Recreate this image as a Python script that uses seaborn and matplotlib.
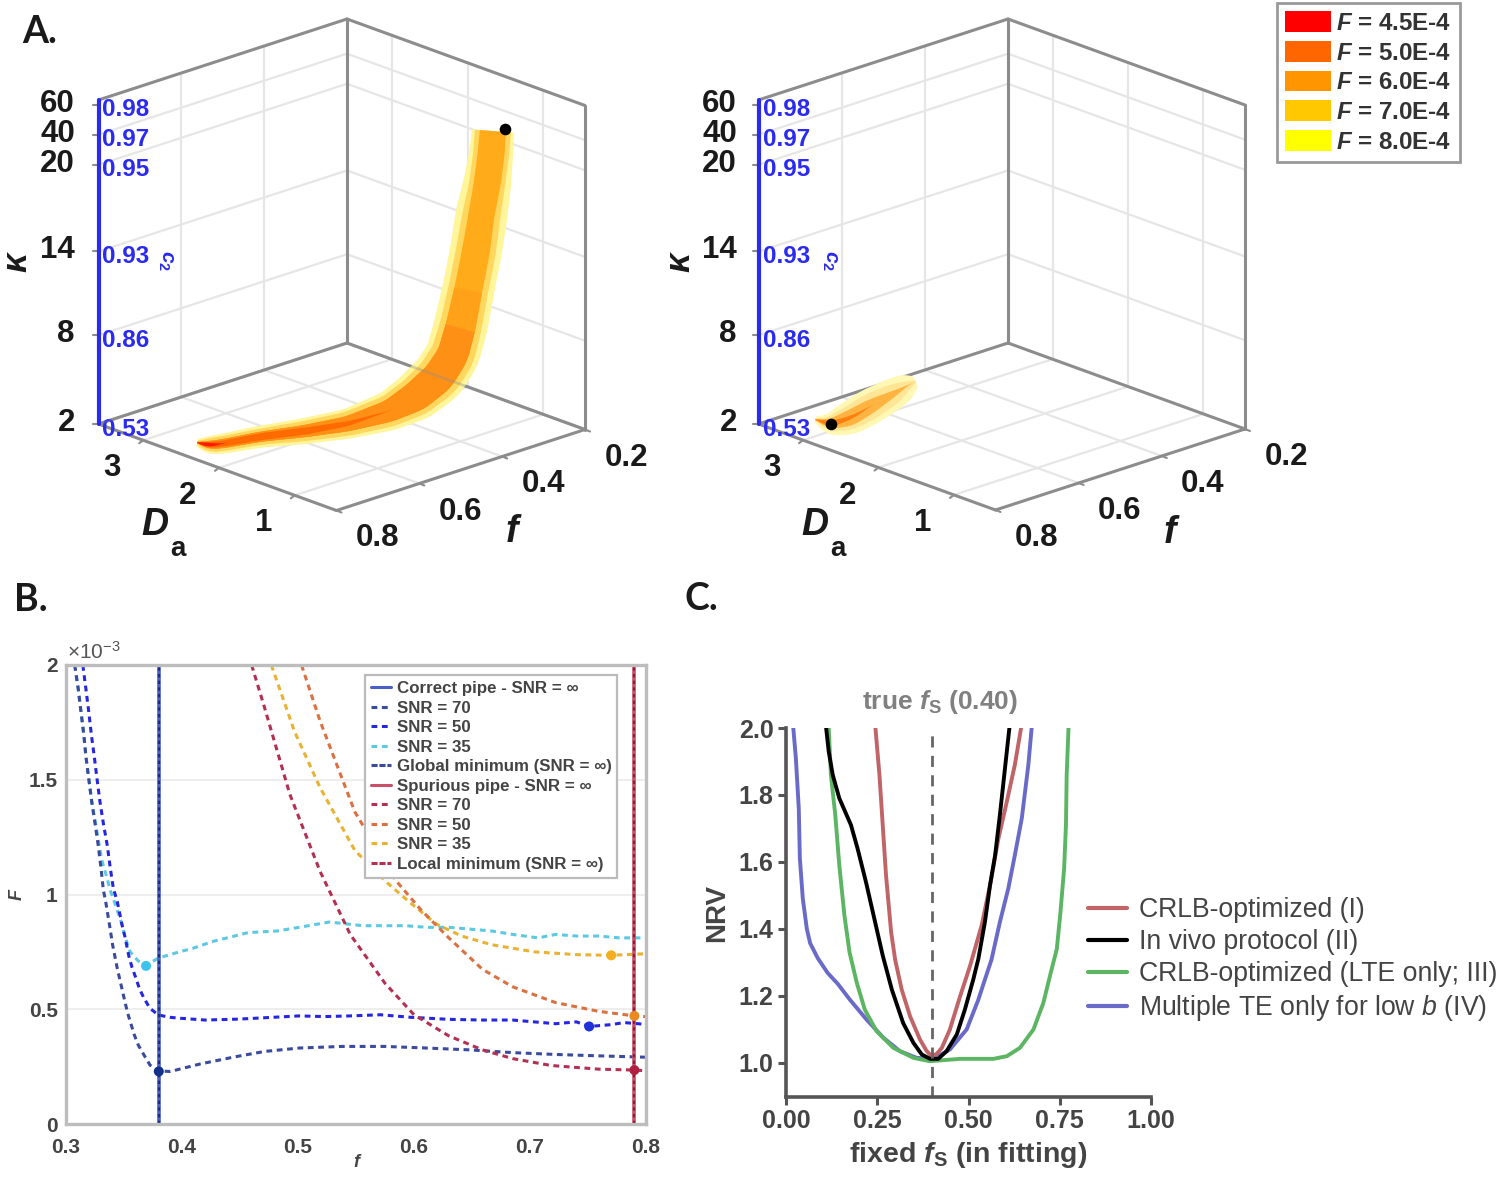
import numpy as np
import pandas as pd
import matplotlib
matplotlib.use("Agg")
import matplotlib.pyplot as plt
from matplotlib.lines import Line2D
from matplotlib.patches import Patch
import seaborn as sns

sns.set_theme(style="white")
plt.rcParams['font.family'] = ['Liberation Sans', 'DejaVu Sans']
plt.rcParams['mathtext.fontset'] = 'custom'
plt.rcParams['mathtext.rm'] = 'Liberation Sans'
plt.rcParams['mathtext.it'] = 'Liberation Sans:italic'
plt.rcParams['mathtext.bf'] = 'Liberation Sans:bold'
plt.rcParams['mathtext.bfit'] = 'Liberation Sans:italic:bold'

# ---------- Panel A data ----------
f_ticks = [0.2, 0.4, 0.6, 0.8]
da_ticks = [1, 2, 3]
kappa_ticks = [2, 8, 14, 20, 40, 60]
c2_ticks = ["0.53", "0.86", "0.93", "0.95", "0.97", "0.98"]
kappa_scale = [2, 8, 14, 20, 40, 60, 63]
kappa_height = [0, 0.274, 0.5325, 0.80, 0.893, 0.986, 1.0]
f_range = [0.2, 0.8]
da_range = [0.45, 3.59]

ridge_f = [.74, .734, .719, .68, .632, .59, .548, .512, .482, .458, .44, .428, .416, .407, .398, .392, .38]
ridge_da = [2.64, 2.50, 2.40, 2.11, 1.80, 1.45, 1.12, .97, .84, .785, .776, .74, .71, .682, .66, .64, .68]
ridge_kappa = [2, 2, 2.14, 2.8, 3.31, 4.08, 5.2, 6.14, 7.39, 8.8, 10.76, 13.4, 15.9, 18.5, 24.5, 44.3, 59.6]
ridge_w80 = [3, 9, 10, 11, 13, 15, 20, 25, 27, 27, 27, 26, 26, 26, 24, 22, 21]
ridge_w70 = [1, 7, 7.5, 8, 10, 12, 16, 20, 22, 22, 21, 20, 20, 19, 18, 18, 18]
ridge_w60 = [0, 4, 4.5, 5, 6, 7.5, 11, 15, 16, 15.5, 15, 14, 14, 13, 13.5, 13.5, 13]
ridge_w50 = [0, 3, 3, 3.5, 3.5, 2.5, 0, 0, 0, 0, 0, 0, 0, 0, 0, 0, 0]
ridge_w45 = [0, 2.5, 0, 0, 0, 0, 0, 0, 0, 0, 0, 0, 0, 0, 0, 0, 0]
min_left = (0.38, 0.52, 62)

blob_f = [.713, .708, .664, .595, .52, .47, .446]
blob_da = [3.34, 3.14, 3.13, 3.23, 3.33, 3.41, 3.43]
blob_kappa = [2, 2, 2, 2, 2, 2, 2]
blob_w80 = [2, 12, 17, 18, 16, 12, 3]
blob_w70 = [0, 8, 12, 13, 10, 4, 0]
blob_w60 = [0, 5, 8, 7, 3, 0, 0]
blob_w50 = [0, 3, 2, 0, 0, 0, 0]
min_right = (0.708, 3.14, 2)

F_levels = ["4.5E-4", "5.0E-4", "6.0E-4", "7.0E-4", "8.0E-4"]
F_colors = ["#ff0000", "#ff6600", "#ff9500", "#ffc800", "#ffff00"]

# ---------- Panel B data (F in units of 1e-3) ----------
b35_f = [.3075,.3106,.3129,.3153,.3172,.3196,.3222,.3255,.3308,.3351,.338,.3422,.348,.3508,.3552,.3623,.3696,.3796,.3983,.409,.427,.457,.482,.501,.527,.556,.593,.611,.630,.667,.685,.707,.722,.740,.759,.777,.800]
b35_F = [2.0,1.894,1.797,1.699,1.600,1.505,1.404,1.31,1.15,1.077,1.02,.961,.874,.816,.751,.710,.693,.723,.751,.765,.796,.834,.841,.857,.880,.864,.864,.857,.857,.841,.826,.811,.826,.819,.819,.811,.811]
b50_f = [.3145,.3172,.3196,.3218,.3244,.3267,.3293,.3322,.3356,.3382,.3408,.3442,.346,.348,.3508,.3543,.3569,.3603,.3632,.3672,.3724,.3796,.3896,.3977,.420,.449,.501,.523,.545,.571,.597,.630,.659,.685,.722,.740,.751,.770,.781,.800]
b50_F = [2.0,1.894,1.797,1.699,1.600,1.505,1.404,1.31,1.213,1.114,1.027,.969,.925,.874,.816,.729,.683,.635,.591,.548,.504,.475,.465,.461,.453,.457,.471,.468,.471,.476,.465,.456,.453,.453,.437,.445,.425,.433,.442,.434]
b70_f = [.3075,.3106,.3129,.3153,.3172,.3196,.3222,.325,.3278,.3302,.3322,.3342,.3373,.3402,.3442,.3465,.3508,.3532,.356,.3589,.3623,.3681,.3724,.379,.390,.416,.446,.471,.501,.538,.575,.611,.648,.685,.722,.759,.800]
b70_F = [2.0,1.894,1.797,1.699,1.600,1.505,1.404,1.31,1.213,1.114,1.020,.969,.874,.780,.678,.627,.533,.482,.436,.388,.344,.293,.257,.231,.229,.262,.293,.316,.331,.338,.338,.331,.323,.311,.303,.297,.291]
r70_f = [.460,.471,.493,.519,.545,.575,.600,.630,.659,.685,.718,.759,.790,.800]
r70_F = [2.0,1.817,1.436,1.101,.826,.613,.476,.384,.323,.285,.255,.239,.235,.232]
r50_f = [.503,.519,.549,.584,.606,.630,.659,.685,.722,.759,.790,.800]
r50_F = [2.0,1.756,1.360,1.063,.933,.811,.674,.598,.529,.491,.471,.468]
r35_f = [.477,.497,.519,.549,.576,.597,.619,.641,.667,.704,.740,.770,.800]
r35_F = [2.0,1.710,1.466,1.192,1.055,.963,.872,.819,.781,.750,.738,.735,.742]
global_min_f = 0.38
local_min_f = 0.79
min_f = [.369, .751, .38, .77, .79, .79]
min_F = [.689, .425, .229, .735, .471, .235]
min_colors = ["#3cc4ee", "#2030d8", "#12308a", "#f5ae20", "#e88a20", "#b02040"]

# ---------- Panel C data ----------
c_red_x = [.245,.256,.265,.274,.288,.299,.317,.340,.367,.385,.399,.413,.427,.449,.477,.504,.536,.559,.582,.605,.627,.644]
c_red_y = [2.0,1.86,1.71,1.56,1.39,1.3075,1.218,1.138,1.069,1.035,1.019,1.026,1.044,1.099,1.198,1.288,1.41,1.53,1.67,1.78,1.89,2.0]
c_blk_x = [.110,.117,.128,.146,.178,.196,.219,.242,.265,.290,.321,.349,.372,.395,.417,.440,.468,.490,.513,.527,.545,.559,.573,.586,.600,.612]
c_blk_y = [2.0,1.93,1.86,1.79,1.71,1.64,1.54,1.43,1.32,1.218,1.118,1.059,1.024,1.011,1.011,1.034,1.084,1.158,1.248,1.31,1.42,1.53,1.62,1.74,1.88,2.0]
c_grn_x = [.117,.123,.135,.146,.160,.174,.194,.216,.248,.294,.349,.394,.477,.568,.605,.641,.678,.705,.723,.742,.752,.762,.767,.769,.774]
c_grn_y = [2.0,1.86,1.74,1.59,1.44,1.33,1.238,1.158,1.094,1.044,1.014,1.004,1.011,1.011,1.019,1.044,1.099,1.178,1.258,1.34,1.45,1.58,1.71,1.86,2.0]
c_blu_x = [.020,.027,.035,.038,.046,.057,.066,.087,.114,.142,.175,.221,.267,.312,.358,.404,.449,.495,.527,.541,.563,.586,.609,.627,.646,.664,.673]
c_blu_y = [2.0,1.91,1.76,1.61,1.49,1.40,1.357,1.312,1.268,1.235,1.188,1.128,1.074,1.034,1.014,1.011,1.039,1.099,1.188,1.235,1.3075,1.42,1.52,1.62,1.73,1.89,2.0]
c_names = ["CRLB-optimized (I)", "In vivo protocol (II)", "CRLB-optimized (LTE only; III)",
           r"Multiple TE only for low $\mathit{b}$ (IV)"]
c_colors = ["#c06468", "#000000", "#5cb562", "#6a6ac8"]

# ---------- Layout ----------
W, H = 1500, 1178
fig = plt.figure(figsize=(W / 100, H / 100), dpi=100, facecolor="white")
ax = fig.add_axes([0, 0, 1, 1], facecolor="none")
ax.set_xlim(0, W)
ax.set_ylim(H, 0)
ax.axis("off")

GRID = "#e6e6e6"
EDGE = "#8c8c8c"
BLUE = "#2a2af0"


def z_of(k):
    return np.interp(k, kappa_scale, kappa_height)


class Box:
    def __init__(self, back, vf, vd, h):
        self.back, self.vf, self.vd, self.h = np.array(back, float), np.array(vf, float), np.array(vd, float), h

    def p(self, f, d, k):
        f, d = np.asarray(f, float), np.asarray(d, float)
        a = (f - f_range[0]) / (f_range[1] - f_range[0])
        b = (da_range[1] - d) / (da_range[1] - da_range[0])   # 0 at back, 1 at front
        x = self.back[0] + a * self.vf[0] + b * self.vd[0]
        y = self.back[1] + a * self.vf[1] + b * self.vd[1] - z_of(k) * self.h
        return x, y

    def seg(self, p, q, **kw):
        xa, ya = self.p(*p)
        xb, yb = self.p(*q)
        ax.plot([xa, xb], [ya, yb], solid_capstyle="round", **kw)


def smooth(v, n=15):
    v = np.asarray(v, float)
    pad = np.r_[np.full(n, v[0]), v, np.full(n, v[-1])]
    return np.convolve(pad, np.ones(n) / n, mode="same")[n:-n]


def band(box, fs, ds, ks, w, color, z):
    x, y = box.p(fs, ds, ks)
    s = np.r_[0, np.cumsum(np.hypot(np.diff(x), np.diff(y)))]
    t = np.arange(0, s[-1], 1.0)
    xx, yy, ww = (smooth(np.interp(t, s, q)) for q in (x, y, w))
    dx, dy = np.gradient(xx), np.gradient(yy)
    nn = np.hypot(dx, dy)
    nx, ny = -dy / nn, dx / nn
    px = np.r_[xx + nx * ww, (xx - nx * ww)[::-1]]
    py = np.r_[yy + ny * ww, (yy - ny * ww)[::-1]]
    ax.fill(px, py, color=color, lw=0, zorder=z)


def draw_box(box, klab_x, blue_x, c2_x, kappa_x, da_lab, f_lab, a_lab):
    f0, f1 = f_range
    d0, d1 = da_range
    top, low = 63, 2
    for fv in [0.4, 0.6]:
        box.seg((fv, d1, low), (fv, d1, top), color=GRID, lw=1.6, zorder=1)
        box.seg((fv, d1, low), (fv, d0, low), color=GRID, lw=1.6, zorder=1)
    for dv in da_ticks:
        box.seg((f0, dv, low), (f0, dv, top), color=GRID, lw=1.6, zorder=1)
        box.seg((f0, dv, low), (f1, dv, low), color=GRID, lw=1.6, zorder=1)
    for kv in [8, 14, 20, 40]:
        box.seg((f1, d1, kv), (f0, d1, kv), color=GRID, lw=1.6, zorder=1)
        box.seg((f0, d1, kv), (f0, d0, kv), color=GRID, lw=1.6, zorder=1)
    for p, q in [((f0, d1, low), (f0, d1, top)), ((f0, d1, top), (f1, d1, top)), ((f0, d1, top), (f0, d0, top)),
                 ((f0, d0, top), (f0, d0, low)), ((f0, d1, low), (f1, d1, low)), ((f0, d1, low), (f0, d0, low)),
                 ((f1, d1, low), (f1, d0, low)), ((f1, d0, low), (f0, d0, low))]:
        box.seg(p, q, color=EDGE, lw=2.2, zorder=2)
    box.seg((f1, d1, low), (f1, d1, top), color=BLUE, lw=3, zorder=6)
    for kv, c in zip(kappa_ticks, c2_ticks):
        x, y = box.p(f1, d1, kv)
        ax.plot([x - 6, x], [y, y], color=EDGE, lw=1.5, zorder=2)
        ax.text(klab_x, y - 1, str(kv), ha="right", va="center", fontsize=22.5, fontweight="bold", color="#1a1a1a")
        ax.text(blue_x, y + 5, c, ha="left", va="center", fontsize=17.5, fontweight="bold", color=BLUE)
    ax.text(c2_x, 261, r"$\mathbfit{c}_{\mathbf{2}}$", rotation=-90, ha="center", va="center", fontsize=15, color=BLUE)
    ax.text(kappa_x, 262, "κ", rotation=90, ha="center", va="center", fontsize=25, fontweight="bold",
            fontstyle="italic", color="#1a1a1a")
    for fv in f_ticks:
        x, y = box.p(fv, d0, low)
        ax.plot([x, x + 5], [y, y + 2], color=EDGE, lw=1.5, zorder=2)
        ax.text(x + 41, y + 28, f"{fv:.1f}", ha="center", va="center", fontsize=22.5, fontweight="bold", color="#1a1a1a")
    for dv in da_ticks:
        x, y = box.p(f1, dv, low)
        ax.plot([x, x - 4], [y, y + 3], color=EDGE, lw=1.5, zorder=2)
        ax.text(x - 31, y + 28, str(dv), ha="center", va="center", fontsize=22.5, fontweight="bold", color="#1a1a1a")
    ax.text(*da_lab, "D", ha="center", va="center", fontsize=27, fontweight="bold", fontstyle="italic", color="#1a1a1a")
    ax.text(*a_lab, "a", ha="center", va="center", fontsize=20, fontweight="bold", color="#1a1a1a")
    ax.text(*f_lab, "f", ha="center", va="center", fontsize=27, fontweight="bold", fontstyle="italic", color="#1a1a1a")


def overlay_edges(box):
    f0, f1 = f_range
    d0, d1 = da_range
    box.seg((f0, d1, 2), (f0, d0, 2), color=EDGE, lw=2.0, alpha=0.35, zorder=4)
    box.seg((f0, d1, 2), (f1, d1, 2), color=EDGE, lw=2.0, alpha=0.25, zorder=4)


left = Box((347, 343), (-248.5, 81), (238, 86.5), 324)
right = Box((1008, 343), (-249.5, 81), (237, 86), 324)

draw_box(left, 75, 102, 165, 17, (155, 525), (512, 532), (178, 549))
draw_box(right, 737, 763, 829, 680, (815, 525), (1170, 533), (838, 549))

n_deep, n_mid = 11, 12
band_layers = [(ridge_w80, len(ridge_f), "#fff59a"), (ridge_w70, len(ridge_f), "#ffd75e"),
               (ridge_w60, len(ridge_f), "#ffab1a"), (ridge_w60, n_mid, "#ffa219"), (ridge_w60, n_deep, "#ff9016"),
               (ridge_w50, n_deep, "#ff6a00"), (ridge_w45, n_deep, "#ff1a00")]
for i, (w, n, col) in enumerate(band_layers):
    band(left, ridge_f[:n], ridge_da[:n], ridge_kappa[:n], w[:n], col, 3 + i * 0.1)
overlay_edges(left)

blob_colors = ["#fff8b4", "#ffe596", "#ffb340", "#ff7f10"]
for i, w in enumerate([blob_w80, blob_w70, blob_w60, blob_w50]):
    band(right, blob_f, blob_da, blob_kappa, w, blob_colors[i], 3 + i * 0.1)

for box, m in [(left, min_left), (right, min_right)]:
    x, y = box.p(*m)
    sns.scatterplot(x=[float(x)], y=[float(y)], color="black", s=70, ax=ax, zorder=7, legend=False, linewidth=0)
ax.set_xlim(0, W)
ax.set_ylim(H, 0)
ax.axis("off")

for txt, x, y in [("A.", 40, 32), ("B.", 31, 600), ("C.", 701, 599)]:
    ax.text(x, y, txt, ha="center", va="center", fontsize=27, fontweight="bold", family="Lato", color="#1a1a1a")

leg_a = ax.legend(handles=[Patch(facecolor=c, edgecolor="none") for c in F_colors],
                  labels=[rf"$\mathbfit{{F}}$ = {v}" for v in F_levels],
                  loc="upper left", bbox_to_anchor=(1277, 3), bbox_transform=ax.transData, borderaxespad=0,
                  handlelength=1.88, handleheight=0.94, handletextpad=0.24,
                  labelspacing=0.25, borderpad=0.34, fancybox=False, framealpha=1, edgecolor="#999999",
                  prop=dict(weight="bold", size=17.4))
leg_a.get_frame().set_linewidth(2)
for t in leg_a.get_texts():
    t.set_color("#333333")

# ---------- Panel B ----------
axb = fig.add_axes([66 / W, 1 - 1124 / H, 580 / W, 459 / H], facecolor="white")
dash = (0, (1.9, 1.5))
curves_b = [(b35_f, b35_F, "#5cc8e2"), (b70_f, b70_F, "#3a4a9c"), (b50_f, b50_F, "#2626e0"),
            (r35_f, r35_F, "#e9b232"), (r50_f, r50_F, "#db7040"), (r70_f, r70_F, "#b23052")]
for xs, ys, col in curves_b:
    sns.lineplot(x=xs, y=ys, color=col, ax=axb, sort=False, estimator=None, linewidth=2.2, linestyle=dash)
axb.axvline(global_min_f, color="#4a60c4", lw=2.6)
axb.axvline(global_min_f, color="#1c2c80", lw=1.6, linestyle=(0, (1.5, 1.5)))
axb.axvline(local_min_f, color="#c8506a", lw=2.6)
axb.axvline(local_min_f, color="#901838", lw=1.6, linestyle=(0, (1.5, 1.5)))
axb.scatter(min_f, min_F, c=min_colors, s=52, zorder=5, linewidths=0)
axb.set_xlim(0.3, 0.8)
axb.set_ylim(0, 2)
axb.set_xticks([0.3, 0.4, 0.5, 0.6, 0.7, 0.8], ["0.3", "0.4", "0.5", "0.6", "0.7", "0.8"])
axb.set_yticks([0, 0.5, 1, 1.5, 2], ["0", "0.5", "1", "1.5", "2"])
axb.grid(axis="y", color="#eeeeee", lw=1.5)
axb.set_axisbelow(True)
axb.tick_params(axis="both", direction="in", length=4, width=1.2, color="#cccccc", labelsize=15, labelcolor="#444444", pad=6)
axb.tick_params(axis="x", pad=10)
for lab in axb.get_xticklabels() + axb.get_yticklabels():
    lab.set_fontweight("bold")
for s in axb.spines.values():
    s.set_color("#bdbdbd")
    s.set_linewidth(2.4)
axb.set_xlabel("f", fontsize=13, fontstyle="italic", fontweight="bold", color="#444444", labelpad=-2)
axb.set_ylabel("F", fontsize=13, fontstyle="italic", fontweight="bold", color="#444444", labelpad=2)
ax.text(67, 652, r"$\times$10$^{-3}$", ha="left", va="center", fontsize=15, color="#555555", zorder=10)

blue_solid = "#4a60c4"
red_solid = "#c8506a"
hb = [Line2D([], [], color=blue_solid, lw=2.2),
      Line2D([], [], color="#3a4a9c", lw=2.2, linestyle=dash),
      Line2D([], [], color="#2626e0", lw=2.2, linestyle=dash),
      Line2D([], [], color="#5cc8e2", lw=2.2, linestyle=dash),
      Line2D([], [], color="#3a4a9c", lw=2.2, linestyle=(0, (2, 0.6))),
      Line2D([], [], color=red_solid, lw=2.2),
      Line2D([], [], color="#b23052", lw=2.2, linestyle=dash),
      Line2D([], [], color="#db7040", lw=2.2, linestyle=dash),
      Line2D([], [], color="#e9b232", lw=2.2, linestyle=dash),
      Line2D([], [], color="#b23052", lw=2.2, linestyle=(0, (2, 0.6)))]
lb = ["Correct pipe - SNR = ∞", "SNR = 70", "SNR = 50", "SNR = 35", "Global minimum (SNR = ∞)",
      "Spurious pipe - SNR = ∞", "SNR = 70", "SNR = 50", "SNR = 35", "Local minimum (SNR = ∞)"]
leg_b = axb.legend(hb, lb, loc="upper left", bbox_to_anchor=((365 - 66) / 580, (1124 - 675) / 459), borderaxespad=0,
                   prop=dict(weight="bold", size=12.2), handlelength=1.15, handletextpad=0.35, labelspacing=0.265,
                   borderpad=0.36, fancybox=False, framealpha=1, edgecolor="#bbbbbb")
leg_b.get_frame().set_linewidth(1.6)
for t in leg_b.get_texts():
    t.set_color("#444444")

# ---------- Panel C ----------
axc = fig.add_axes([786 / W, 1 - 1097 / H, 365 / W, 369 / H], facecolor="white")
frames = [pd.DataFrame({"x": xs, "y": ys, "protocol": n}) for xs, ys, n in
          zip([c_red_x, c_blk_x, c_grn_x, c_blu_x], [c_red_y, c_blk_y, c_grn_y, c_blu_y], c_names)]
df_c = pd.concat(frames, ignore_index=True)
order = [c_names[3], c_names[0], c_names[2], c_names[1]]
sns.lineplot(data=df_c, x="x", y="y", hue="protocol", hue_order=order, palette=dict(zip(c_names, c_colors)),
             estimator=None, sort=False, linewidth=2.8, ax=axc, legend=False)
axc.axvline(0.4, color="#666666", lw=2, linestyle=(0, (4, 3)))
axc.set_xlim(0, 1)
axc.set_ylim(0.897, 2.0)
axc.set_xticks([0, 0.25, 0.5, 0.75, 1], ["0.00", "0.25", "0.50", "0.75", "1.00"])
axc.set_yticks([1, 1.2, 1.4, 1.6, 1.8, 2.0], ["1.0", "1.2", "1.4", "1.6", "1.8", "2.0"])
axc.tick_params(axis="both", direction="out", length=6, width=2.2, color="#555555", labelsize=18, labelcolor="#444444",
                pad=3, bottom=True, left=True)
for lab in axc.get_xticklabels() + axc.get_yticklabels():
    lab.set_fontweight("bold")
sns.despine(ax=axc)
for s in ["left", "bottom"]:
    axc.spines[s].set_color("#555555")
    axc.spines[s].set_linewidth(2.6)
axc.set_xlabel(r"fixed $\mathbfit{f}_{\mathbf{S}}$ (in fitting)", fontsize=20.5, fontweight="bold", color="#444444", labelpad=5)
axc.set_ylabel("NRV", fontsize=20, fontweight="bold", color="#444444", labelpad=6)
ax.text(940, 702, r"true $\mathbfit{f}_{\mathbf{S}}$ (0.40)", ha="center", va="center", fontsize=19, fontweight="bold", color="#808080")
leg_c = axc.legend([Line2D([], [], color=c, lw=3) for c in c_colors], c_names, loc="upper left",
                   bbox_to_anchor=(1088 / W, 1 - 897 / H), bbox_transform=fig.transFigure, borderaxespad=0, borderpad=0,
                   fontsize=19.2, handlelength=1.48, handletextpad=0.42, labelspacing=0.225, frameon=False)
for t in leg_c.get_texts():
    t.set_color("#444444")

fig.savefig("out.png", dpi=100, facecolor="white")
